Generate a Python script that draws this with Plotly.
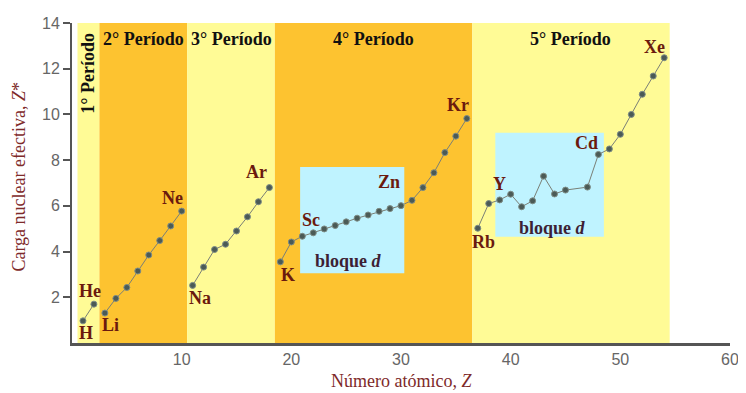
import plotly.graph_objects as go

# ---------------- data ----------------
p1_z = [1, 2]
p1_zeff = [0.97, 1.70]
p2_z = [3, 4, 5, 6, 7, 8, 9, 10]
p2_zeff = [1.31, 1.95, 2.43, 3.15, 3.85, 4.48, 5.12, 5.77]
p3_z = [11, 12, 13, 14, 15, 16, 17, 18]
p3_zeff = [2.52, 3.32, 4.09, 4.32, 4.90, 5.52, 6.18, 6.80]
p4_z = list(range(19, 37))
p4_zeff = [3.55, 4.42, 4.67, 4.82, 4.99, 5.14, 5.30, 5.46, 5.60, 5.76, 5.88, 6.01,
           6.24, 6.80, 7.45, 8.33, 9.05, 9.82]
p5_z = [37, 38, 39, 40, 41, 42, 43, 44, 45, 47, 48, 49, 50, 51, 52, 53, 54]
p5_zeff = [5.02, 6.10, 6.26, 6.51, 5.96, 6.22, 7.30, 6.52, 6.69, 6.82, 8.25, 8.49,
           9.13, 10.00, 10.88, 11.68, 12.48]

period_names = ["1° Período", "2° Período", "3° Período", "4° Período", "5° Período"]
period_start = [0.5, 2.5, 10.5, 18.5, 36.5]
period_end = [2.5, 10.5, 18.5, 36.5, 54.5]

dblock_x0 = [20.8, 38.6]
dblock_x1 = [30.3, 48.5]
dblock_y0 = [3.05, 4.65]
dblock_y1 = [7.70, 9.20]
dblock_label_x = [25.2, 43.8]
dblock_label_y = [3.58, 5.04]

element_labels = ["H", "He", "Li", "Ne", "Na", "Ar", "K", "Sc", "Zn", "Kr", "Rb", "Y", "Cd", "Xe"]
label_x = [1.25, 1.6, 3.55, 9.2, 11.7, 16.85, 19.7, 21.8, 28.95, 35.2, 37.5, 39.0, 46.95, 53.1]
label_y = [0.43, 2.26, 0.77, 6.36, 1.96, 7.47, 2.99, 5.38, 7.04, 10.4, 4.4, 6.96, 8.75, 12.97]

x_ticks = [10, 20, 30, 40, 50, 60]
y_ticks = [2, 4, 6, 8, 10, 12, 14]

# ---------------- styles ----------------
band_colors = ["#FFFB96", "#FDC330", "#FFFB96", "#FDC330", "#FFFB96"]
dblock_color = "#BFF3FF"
label_color = "#6B1A0E"
title_color = "#7E2A2A"
serif = "Liberation Serif, Times New Roman, serif"
sans = "Liberation Sans, Arial, sans-serif"

# page has an 8px body margin; size the figure so the plot area lands where the reference has it
OFF = 8
W, H = 738, 385
L, T = 72 - OFF, 15 - OFF
R = W - (735 - OFF)
B = H - (343 - OFF)
pw, ph = W - L - R, H - T - B


def px_to_paper(px, py):
    return ((px - OFF) - L) / pw, (H - B - (py - OFF)) / ph


fig = go.Figure()

shapes = []
for s, e, c in zip(period_start, period_end, band_colors):
    shapes.append(dict(type="rect", xref="x", yref="y", x0=s, x1=e, y0=0, y1=14,
                       fillcolor=c, line=dict(width=0), layer="below"))
for x0, x1, y0, y1 in zip(dblock_x0, dblock_x1, dblock_y0, dblock_y1):
    shapes.append(dict(type="rect", xref="x", yref="y", x0=x0, x1=x1, y0=y0, y1=y1,
                       fillcolor=dblock_color, line=dict(width=0), layer="below"))

for zs, vs in [(p1_z, p1_zeff), (p2_z, p2_zeff), (p3_z, p3_zeff), (p4_z, p4_zeff), (p5_z, p5_zeff)]:
    fig.add_trace(go.Scatter(
        x=zs, y=vs, mode="lines+markers",
        line=dict(color="#7a7f76", width=1),
        marker=dict(size=6, color="#4b5a56", line=dict(color="#7d8c86", width=1)),
        showlegend=False, hoverinfo="x+y"))

annotations = []
for i, (name, s, e) in enumerate(zip(period_names, period_start, period_end)):
    if i == 0:
        annotations.append(dict(x=(s + e) / 2, y=11.8, xref="x", yref="y", text="<b>%s</b>" % name,
                                textangle=-90, showarrow=False,
                                font=dict(family=serif, size=18, color="#111111")))
    else:
        annotations.append(dict(x=(s + e) / 2, y=13.3, xref="x", yref="y", text="<b>%s</b>" % name,
                                showarrow=False, font=dict(family=serif, size=18, color="#111111")))

for t, x, y in zip(element_labels, label_x, label_y):
    annotations.append(dict(x=x, y=y, xref="x", yref="y", text="<b>%s</b>" % t, showarrow=False,
                            font=dict(family=serif, size=18, color=label_color)))

for x, y in zip(dblock_label_x, dblock_label_y):
    annotations.append(dict(x=x, y=y, xref="x", yref="y", text="<b>bloque <i>d</i></b>",
                            showarrow=False, font=dict(family=serif, size=18, color="#3d1f35")))

ax, ay = px_to_paper(19, 172)
annotations.append(dict(x=ax, y=ay, xref="paper", yref="paper", xanchor="center", yanchor="middle",
                        text="Carga nuclear efectiva, <i>Z</i>*",
                        textangle=-90, showarrow=False, borderpad=0,
                        font=dict(family=serif, size=18, color=title_color)))
bx, by = px_to_paper(404, 382)
annotations.append(dict(x=bx, y=by, xref="paper", yref="paper", xanchor="center", yanchor="middle",
                        text="Número atómico, <i>Z</i>",
                        showarrow=False, font=dict(family=serif, size=18, color=title_color)))

fig.update_layout(
    width=W, height=H,
    margin=dict(l=L, r=R, t=T, b=B),
    paper_bgcolor="white", plot_bgcolor="white",
    shapes=shapes, annotations=annotations,
    xaxis=dict(range=[0, 60], tickvals=x_ticks, showgrid=False, zeroline=False,
               showline=True, linecolor="#555555", linewidth=3, ticks="",
               tickfont=dict(family=sans, size=16, color="#666666")),
    yaxis=dict(range=[0, 14.0001], tickvals=y_ticks, showgrid=False, zeroline=False,
               showline=True, linecolor="#555555", linewidth=2, ticks="outside", ticklen=7,
               tickwidth=2, tickcolor="#555555", ticklabeloverflow="allow",
               tickfont=dict(family=sans, size=16, color="#666666")),
)

fig.write_html("out.html")
